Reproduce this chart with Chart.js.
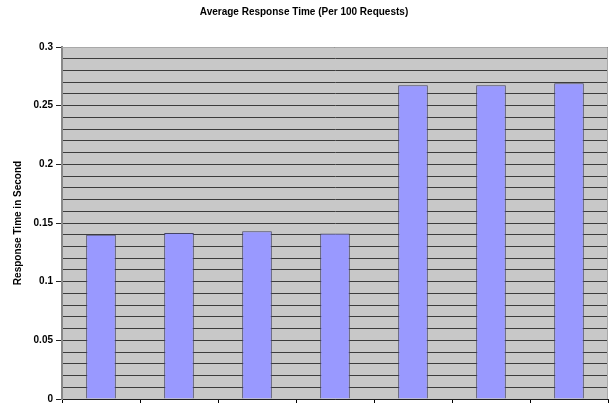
<!DOCTYPE html>
<html>
<head>
<meta charset="utf-8">
<script src="https://cdn.jsdelivr.net/npm/chart.js@4.4.1/dist/chart.umd.min.js"></script>
<style>
html,body{margin:0;padding:0;background:#fff;}
#wrap{width:610px;height:403px;position:relative;}
</style>
</head>
<body>
<div id="wrap"><canvas id="c" width="610" height="403"></canvas></div>
<script>
const categories = ["1", "2", "3", "4", "5", "6", "7"];
const responseTimes = [0.140, 0.1415, 0.143, 0.141, 0.2675, 0.2675, 0.269];
const majorTicks = [0, 0.05, 0.1, 0.15, 0.2, 0.25, 0.3];
const chartTitle = "Average Response Time (Per 100 Requests)";
const yTitle = "Response Time in Second";

const isMajor = v => majorTicks.some(m => Math.abs(m - v) < 1e-6);

const plotBg = {
  id: 'plotBg',
  beforeDraw(chart) {
    const {ctx, chartArea: a} = chart;
    ctx.save();
    ctx.fillStyle = '#C8C8C8';
    ctx.fillRect(a.left, a.top, a.right - a.left, a.bottom - a.top);
    ctx.restore();
  },
  afterDatasetsDraw(chart) {
    const {ctx, chartArea: a} = chart;
    ctx.save();
    ctx.strokeStyle = '#A8A8A8';
    ctx.lineWidth = 1;
    ctx.beginPath();
    ctx.moveTo(a.left, a.top + 0.5);
    ctx.lineTo(a.right - 0.5, a.top + 0.5);
    ctx.lineTo(a.right - 0.5, a.bottom);
    ctx.stroke();
    ctx.restore();
  }
};

new Chart(document.getElementById('c'), {
  type: 'bar',
  data: {
    labels: categories,
    datasets: [{
      data: responseTimes,
      backgroundColor: '#9999FF',
      borderColor: '#444466',
      borderWidth: 1,
      barPercentage: 0.38,
      categoryPercentage: 1.0
    }]
  },
  options: {
    responsive: false,
    animation: false,
    layout: { padding: { left: 0, right: 2, top: 0, bottom: 0 } },
    plugins: {
      legend: { display: false },
      tooltip: { enabled: false },
      title: {
        display: true,
        text: chartTitle,
        color: '#000',
        font: { family: 'Liberation Sans, Arial, sans-serif', size: 10, weight: 'bold' },
        padding: { top: 6, bottom: 29 }
      }
    },
    scales: {
      x: {
        offset: true,
        afterFit(scale) { scale.height = 4; scale.paddingLeft = 0; scale.paddingRight = 0; },
        grid: {
          display: true,
          offset: true,
          drawOnChartArea: false,
          drawTicks: true,
          tickLength: 4,
          color: '#000'
        },
        border: { display: true, color: '#222', width: 1 },
        ticks: { display: false }
      },
      y: {
        min: 0,
        max: 0.3,
        afterFit(scale) { scale.width = 62; scale.paddingTop = 0; scale.paddingBottom = 0; },
        ticks: {
          stepSize: 0.01,
          autoSkip: false,
          color: '#000',
          padding: 3,
          font: { family: 'Liberation Sans, Arial, sans-serif', size: 10, weight: 'bold' },
          callback(v) {
            if (!isMajor(v)) return '';
            return String(Math.round(v * 100) / 100);
          }
        },
        grid: {
          color: '#3C3C3C',
          lineWidth: 1,
          tickLength: 6,
          tickColor: ctx => (ctx.tick && isMajor(ctx.tick.value)) ? '#222' : 'rgba(0,0,0,0)'
        },
        border: { display: true, color: '#888', width: 2 },
        title: {
          display: true,
          text: yTitle,
          color: '#000',
          padding: { top: 12, bottom: 4 },
          font: { family: 'Liberation Sans, Arial, sans-serif', size: 10, weight: 'bold' }
        }
      }
    }
  },
  plugins: [plotBg]
});
</script>
</body>
</html>
